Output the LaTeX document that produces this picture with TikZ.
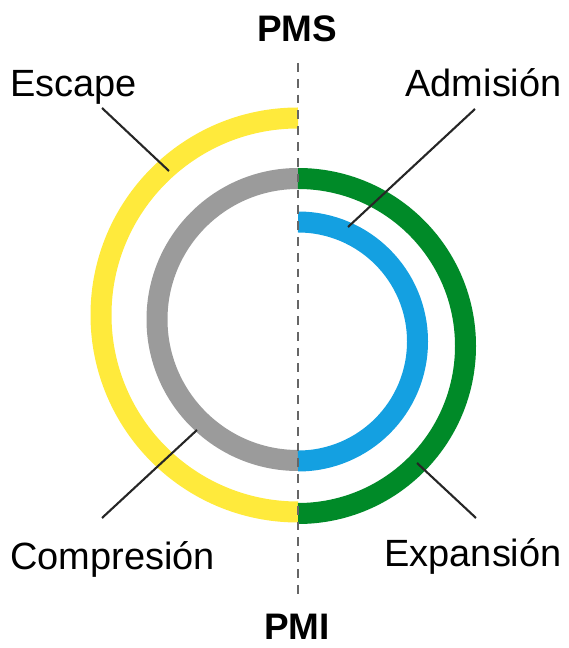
\documentclass[tikz,border=0pt]{standalone}
\usepackage{fontspec}
\setmainfont{Liberation Sans}
\usepackage{xcolor}
\usepackage{tikz}

\definecolor{escapeyellow}{RGB}{255,234,60}
\definecolor{admisionblue}{RGB}{20,160,225}
\definecolor{expansiongreen}{RGB}{0,138,40}
\definecolor{compresiongray}{RGB}{155,155,155}

\begin{document}
\begin{tikzpicture}[x=1cm,y=1cm,
    stroke/.style={line width=0.42cm},
    lead/.style={line width=1.2pt,black!85},
    lbl/.style={inner sep=0pt,font=\fontsize{21.6}{26}\selectfont}]
  \useasboundingbox (0,0) rectangle (11.38,12.96);
  % the four strokes
  \draw[stroke,escapeyellow] (5.96,10.60) arc[start angle=90,end angle=270,radius=3.94];
  \draw[stroke,compresiongray] (5.96,9.39) arc[start angle=90,end angle=270,radius=2.82];
  \draw[stroke,expansiongreen] (5.96,9.39) arc[start angle=90,end angle=-90,radius=3.35];
  \draw[stroke,admisionblue] (5.96,8.52) arc[start angle=90,end angle=-90,radius=2.39];
  % dead centres
  \node[lbl,font=\fontsize{21}{26}\selectfont\bfseries,anchor=base] (pms) at (5.94,12.12) {PMS};
  \node[lbl,font=\fontsize{21}{26}\selectfont\bfseries,anchor=base] (pmi) at (5.94,0.16) {PMI};
  \coordinate (axtop) at (5.96,11.70);
  \coordinate (axbot) at (5.96,0.96);
  \draw[gray!80!black,line width=1.3pt,dash pattern=on 5pt off 4pt] (axtop) -- (axbot);
  % labels
  \node[lbl,anchor=base west] (escape) at (0.20,11.02) {Escape};
  \node[lbl,anchor=base east] (admision) at (11.24,11.02) {Admisión};
  \node[lbl,anchor=base west] (compresion) at (0.20,1.56) {Compresión};
  \node[lbl,anchor=base east] (expansion) at (11.24,1.62) {Expansión};
  \coordinate (escape-a) at (2.04,10.80);
  \coordinate (escape-b) at (3.38,9.54);
  \coordinate (admision-a) at (9.50,10.78);
  \coordinate (admision-b) at (6.96,8.42);
  \coordinate (compresion-a) at (2.04,2.60);
  \coordinate (compresion-b) at (3.94,4.36);
  \coordinate (expansion-a) at (9.52,2.60);
  \coordinate (expansion-b) at (8.34,3.70);
  \draw[lead] (escape-a) -- (escape-b);
  \draw[lead] (admision-a) -- (admision-b);
  \draw[lead] (compresion-a) -- (compresion-b);
  \draw[lead] (expansion-a) -- (expansion-b);
\end{tikzpicture}
\end{document}
